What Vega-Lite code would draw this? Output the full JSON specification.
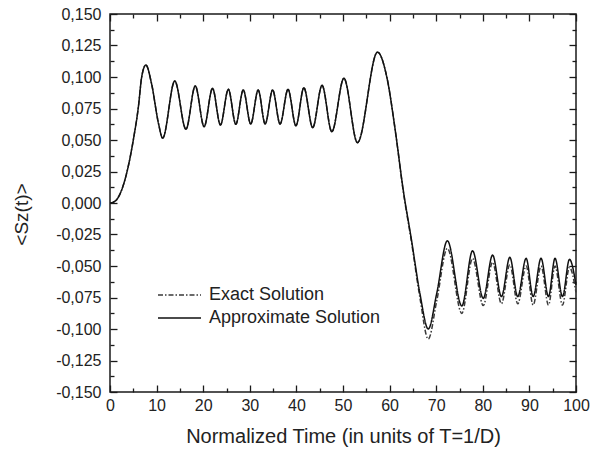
{
  "$schema": "https://vega.github.io/schema/vega-lite/v6.json",
  "width": 466,
  "height": 378,
  "autosize": {"type": "none"},
  "padding": {"left": 110, "top": 14, "right": 15, "bottom": 67},
  "background": "white",
  "config": {
    "locale": {"number": {"decimal": ",", "thousands": ".", "grouping": [3], "currency": ["", ""], "minus": "-"}},
    "view": {"stroke": "#1a1a1a", "strokeWidth": 1.5},
    "font": "Liberation Sans",
    "axis": {"domain": false, "grid": false, "labelFlush": false, "labelOverlap": false, "tickColor": "#1a1a1a", "tickWidth": 1.3, "labelColor": "#222", "labelFont": "Liberation Sans", "labelFontSize": 16, "titleFont": "Liberation Sans", "titleFontWeight": "normal", "titleColor": "#222"},
    "legend": {"labelFont": "Liberation Sans", "labelFontSize": 18, "labelColor": "#222", "labelLimit": 400}
  },
  "data": {"values": [
    {"series": "Exact Solution", "t": 0, "s": 0},
    {"series": "Exact Solution", "t": 0.5, "s": 0.0003},
    {"series": "Exact Solution", "t": 1.5, "s": 0.003},
    {"series": "Exact Solution", "t": 2.5, "s": 0.0103},
    {"series": "Exact Solution", "t": 3.9, "s": 0.0288},
    {"series": "Exact Solution", "t": 5.0, "s": 0.050},
    {"series": "Exact Solution", "t": 6.1, "s": 0.0765},
    {"series": "Exact Solution", "t": 6.8, "s": 0.100},
    {"series": "Exact Solution", "t": 7.7, "s": 0.1095},
    {"series": "Exact Solution", "t": 8.9, "s": 0.095},
    {"series": "Exact Solution", "t": 10.4, "s": 0.0632},
    {"series": "Exact Solution", "t": 11.3, "s": 0.0515},
    {"series": "Exact Solution", "t": 13.9, "s": 0.0968},
    {"series": "Exact Solution", "t": 16.3, "s": 0.0585},
    {"series": "Exact Solution", "t": 18.3, "s": 0.0929},
    {"series": "Exact Solution", "t": 20.2, "s": 0.0606},
    {"series": "Exact Solution", "t": 22.0, "s": 0.0910},
    {"series": "Exact Solution", "t": 23.7, "s": 0.0619},
    {"series": "Exact Solution", "t": 25.4, "s": 0.0902},
    {"series": "Exact Solution", "t": 27.0, "s": 0.0625},
    {"series": "Exact Solution", "t": 28.6, "s": 0.0897},
    {"series": "Exact Solution", "t": 30.2, "s": 0.0627},
    {"series": "Exact Solution", "t": 31.8, "s": 0.0897},
    {"series": "Exact Solution", "t": 33.3, "s": 0.0627},
    {"series": "Exact Solution", "t": 34.9, "s": 0.0897},
    {"series": "Exact Solution", "t": 36.5, "s": 0.0627},
    {"series": "Exact Solution", "t": 38.2, "s": 0.0902},
    {"series": "Exact Solution", "t": 39.9, "s": 0.0613},
    {"series": "Exact Solution", "t": 41.6, "s": 0.0915},
    {"series": "Exact Solution", "t": 43.5, "s": 0.0598},
    {"series": "Exact Solution", "t": 45.5, "s": 0.0934},
    {"series": "Exact Solution", "t": 47.6, "s": 0.0566},
    {"series": "Exact Solution", "t": 50.2, "s": 0.0990},
    {"series": "Exact Solution", "t": 53.1, "s": 0.0479},
    {"series": "Exact Solution", "t": 57.4, "s": 0.1197},
    {"series": "Exact Solution", "t": 59.4, "s": 0.100},
    {"series": "Exact Solution", "t": 61.2, "s": 0.058},
    {"series": "Exact Solution", "t": 62.9, "s": 0.010},
    {"series": "Exact Solution", "t": 64.7, "s": -0.031},
    {"series": "Exact Solution", "t": 66.5, "s": -0.075},
    {"series": "Exact Solution", "t": 68.3, "s": -0.108},
    {"series": "Exact Solution", "t": 70.1, "s": -0.078},
    {"series": "Exact Solution", "t": 72.4, "s": -0.036},
    {"series": "Exact Solution", "t": 75.5, "s": -0.0876},
    {"series": "Exact Solution", "t": 77.8, "s": -0.044},
    {"series": "Exact Solution", "t": 80.1, "s": -0.0814},
    {"series": "Exact Solution", "t": 82.1, "s": -0.047},
    {"series": "Exact Solution", "t": 84.0, "s": -0.080},
    {"series": "Exact Solution", "t": 85.8, "s": -0.049},
    {"series": "Exact Solution", "t": 87.5, "s": -0.080},
    {"series": "Exact Solution", "t": 89.3, "s": -0.050},
    {"series": "Exact Solution", "t": 90.8, "s": -0.081},
    {"series": "Exact Solution", "t": 92.5, "s": -0.050},
    {"series": "Exact Solution", "t": 94.1, "s": -0.081},
    {"series": "Exact Solution", "t": 95.5, "s": -0.050},
    {"series": "Exact Solution", "t": 97.1, "s": -0.081},
    {"series": "Exact Solution", "t": 98.6, "s": -0.051},
    {"series": "Exact Solution", "t": 100, "s": -0.071},
    {"series": "Approximate Solution", "t": 0, "s": 0},
    {"series": "Approximate Solution", "t": 0.5, "s": 0.0003},
    {"series": "Approximate Solution", "t": 1.5, "s": 0.003},
    {"series": "Approximate Solution", "t": 2.5, "s": 0.0103},
    {"series": "Approximate Solution", "t": 3.9, "s": 0.0288},
    {"series": "Approximate Solution", "t": 5.0, "s": 0.050},
    {"series": "Approximate Solution", "t": 6.1, "s": 0.0765},
    {"series": "Approximate Solution", "t": 6.8, "s": 0.100},
    {"series": "Approximate Solution", "t": 7.7, "s": 0.1095},
    {"series": "Approximate Solution", "t": 8.9, "s": 0.095},
    {"series": "Approximate Solution", "t": 10.4, "s": 0.0632},
    {"series": "Approximate Solution", "t": 11.3, "s": 0.0515},
    {"series": "Approximate Solution", "t": 13.9, "s": 0.0968},
    {"series": "Approximate Solution", "t": 16.3, "s": 0.0585},
    {"series": "Approximate Solution", "t": 18.3, "s": 0.0929},
    {"series": "Approximate Solution", "t": 20.2, "s": 0.0606},
    {"series": "Approximate Solution", "t": 22.0, "s": 0.0910},
    {"series": "Approximate Solution", "t": 23.7, "s": 0.0619},
    {"series": "Approximate Solution", "t": 25.4, "s": 0.0902},
    {"series": "Approximate Solution", "t": 27.0, "s": 0.0625},
    {"series": "Approximate Solution", "t": 28.6, "s": 0.0897},
    {"series": "Approximate Solution", "t": 30.2, "s": 0.0627},
    {"series": "Approximate Solution", "t": 31.8, "s": 0.0897},
    {"series": "Approximate Solution", "t": 33.3, "s": 0.0627},
    {"series": "Approximate Solution", "t": 34.9, "s": 0.0897},
    {"series": "Approximate Solution", "t": 36.5, "s": 0.0627},
    {"series": "Approximate Solution", "t": 38.2, "s": 0.0902},
    {"series": "Approximate Solution", "t": 39.9, "s": 0.0613},
    {"series": "Approximate Solution", "t": 41.6, "s": 0.0915},
    {"series": "Approximate Solution", "t": 43.5, "s": 0.0598},
    {"series": "Approximate Solution", "t": 45.5, "s": 0.0934},
    {"series": "Approximate Solution", "t": 47.6, "s": 0.0566},
    {"series": "Approximate Solution", "t": 50.2, "s": 0.0990},
    {"series": "Approximate Solution", "t": 53.1, "s": 0.0479},
    {"series": "Approximate Solution", "t": 57.4, "s": 0.1197},
    {"series": "Approximate Solution", "t": 59.4, "s": 0.100},
    {"series": "Approximate Solution", "t": 61.2, "s": 0.058},
    {"series": "Approximate Solution", "t": 62.9, "s": 0.011},
    {"series": "Approximate Solution", "t": 64.7, "s": -0.0294},
    {"series": "Approximate Solution", "t": 66.5, "s": -0.0717},
    {"series": "Approximate Solution", "t": 68.3, "s": -0.1000},
    {"series": "Approximate Solution", "t": 70.1, "s": -0.072},
    {"series": "Approximate Solution", "t": 72.4, "s": -0.030},
    {"series": "Approximate Solution", "t": 75.5, "s": -0.0817},
    {"series": "Approximate Solution", "t": 77.8, "s": -0.0379},
    {"series": "Approximate Solution", "t": 80.1, "s": -0.0757},
    {"series": "Approximate Solution", "t": 82.1, "s": -0.0413},
    {"series": "Approximate Solution", "t": 84.0, "s": -0.0743},
    {"series": "Approximate Solution", "t": 85.8, "s": -0.0431},
    {"series": "Approximate Solution", "t": 87.5, "s": -0.0743},
    {"series": "Approximate Solution", "t": 89.3, "s": -0.0439},
    {"series": "Approximate Solution", "t": 90.8, "s": -0.0743},
    {"series": "Approximate Solution", "t": 92.5, "s": -0.0439},
    {"series": "Approximate Solution", "t": 94.1, "s": -0.0743},
    {"series": "Approximate Solution", "t": 95.5, "s": -0.0439},
    {"series": "Approximate Solution", "t": 97.1, "s": -0.0743},
    {"series": "Approximate Solution", "t": 98.6, "s": -0.0447},
    {"series": "Approximate Solution", "t": 100, "s": -0.065}
  ]},
  "layer": [
    {
      "mark": {"type": "line", "interpolate": "monotone", "strokeWidth": 1.5},
      "encoding": {
        "x": {"field": "t", "type": "quantitative", "scale": {"domain": [0, 100], "nice": false},
              "axis": {"orient": "bottom", "values": [0,10,20,30,40,50,60,70,80,90,100], "tickSize": -7, "labelPadding": 12, "title": "Normalized Time (in units of T=1/D)", "titleFontSize": 20, "titlePadding": 13}},
        "y": {"field": "s", "type": "quantitative", "scale": {"domain": [-0.15, 0.15], "nice": false, "zero": false},
              "axis": {"orient": "left", "values": [-0.15,-0.125,-0.1,-0.075,-0.05,-0.025,0,0.025,0.05,0.075,0.1,0.125,0.15], "format": ".3f", "tickSize": -7, "labelPadding": 16, "title": "<Sz(t)>", "titleFontSize": 19, "titlePadding": 24, "titleY": 200}},
        "color": {"field": "series", "type": "nominal", "sort": ["Exact Solution", "Approximate Solution"],
                  "scale": {"domain": ["Exact Solution", "Approximate Solution"], "range": ["#3a3a3a", "#111111"]},
                  "legend": {"title": null, "orient": "none", "legendX": 47, "legendY": 271, "symbolType": "stroke", "symbolSize": 1849, "symbolStrokeWidth": 1.5, "clipHeight": 20, "rowPadding": 3, "labelOffset": 7, "padding": 0, "labelLimit": 400}},
        "strokeDash": {"field": "series", "type": "nominal", "sort": ["Exact Solution", "Approximate Solution"],
                  "scale": {"domain": ["Exact Solution", "Approximate Solution"], "range": [[5, 2, 1.5, 2], [1, 0]]},
                  "legend": {"title": null, "orient": "none", "legendX": 47, "legendY": 271, "symbolType": "stroke", "symbolSize": 1849, "symbolStrokeWidth": 1.5, "clipHeight": 20, "rowPadding": 3, "labelOffset": 7, "padding": 0, "labelLimit": 400}}
      }
    },
    {
      "mark": {"type": "line", "opacity": 0},
      "encoding": {
        "x": {"field": "t", "type": "quantitative", "axis": {"orient": "bottom", "values": [5,15,25,35,45,55,65,75,85,95], "tickSize": -4, "labels": false, "title": null}},
        "y": {"field": "s", "type": "quantitative", "axis": {"orient": "left", "values": [-0.1375,-0.1125,-0.0875,-0.0625,-0.0375,-0.0125,0.0125,0.0375,0.0625,0.0875,0.1125,0.1375], "tickSize": -4, "labels": false, "title": null}},
        "detail": {"field": "series"}
      }
    },
    {
      "mark": {"type": "line", "opacity": 0},
      "encoding": {
        "x": {"field": "t", "type": "quantitative", "axis": {"orient": "top", "values": [0,10,20,30,40,50,60,70,80,90,100], "tickSize": -7, "labels": false, "title": null}},
        "y": {"field": "s", "type": "quantitative", "axis": {"orient": "right", "values": [-0.15,-0.125,-0.1,-0.075,-0.05,-0.025,0,0.025,0.05,0.075,0.1,0.125,0.15], "tickSize": -7, "labels": false, "title": null}},
        "detail": {"field": "series"}
      }
    },
    {
      "mark": {"type": "line", "opacity": 0},
      "encoding": {
        "x": {"field": "t", "type": "quantitative", "axis": {"orient": "top", "values": [5,15,25,35,45,55,65,75,85,95], "tickSize": -4, "labels": false, "title": null}},
        "y": {"field": "s", "type": "quantitative", "axis": {"orient": "right", "values": [-0.1375,-0.1125,-0.0875,-0.0625,-0.0375,-0.0125,0.0125,0.0375,0.0625,0.0875,0.1125,0.1375], "tickSize": -4, "labels": false, "title": null}},
        "detail": {"field": "series"}
      }
    }
  ],
  "resolve": {"axis": {"x": "independent", "y": "independent"}, "scale": {"x": "shared", "y": "shared"}}
}
